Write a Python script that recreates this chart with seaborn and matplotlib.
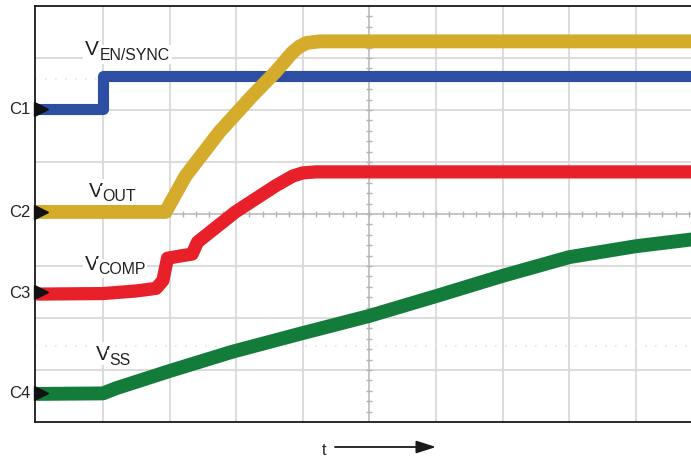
import numpy as np
import matplotlib
matplotlib.use("Agg")
import matplotlib.pyplot as plt
import seaborn as sns

# ---- data (in scope divisions: x 0..10, y 0..8 from bottom) ----
en_x = [0.0, 1.0, 1.0, 9.9]
en_y = [6.02, 6.02, 6.66, 6.66]

out_x = [0.0, 1.94, 2.24, 2.75, 3.24, 3.59, 3.84, 3.95, 4.06, 4.25, 9.9]
out_y = [4.04, 4.04, 4.73, 5.58, 6.27, 6.73, 7.10, 7.22, 7.29, 7.32, 7.32]

comp_x = [0.0, 1.0, 1.5, 1.8, 1.9, 1.97, 2.15, 2.34, 2.42, 2.99, 3.59,
          3.85, 4.0, 4.2, 9.9]
comp_y = [2.46, 2.47, 2.52, 2.57, 2.72, 3.15, 3.19, 3.23, 3.46, 4.04, 4.54,
          4.73, 4.79, 4.81, 4.81]

ss_x = [0.0, 1.0, 1.2, 2.0, 2.94, 4.0, 5.0, 6.0, 7.0, 8.0, 9.0, 9.9]
ss_y = [0.54, 0.55, 0.65, 0.98, 1.35, 1.71, 2.04, 2.42, 2.81, 3.17, 3.38, 3.52]

channel_labels = ["C1", "C2", "C3", "C4"]
channel_levels = [6.02, 4.04, 2.50, 0.56]

trace_names = ["EN/SYNC", "OUT", "COMP", "SS"]

# ---- figure ----
sns.set_theme(style="white")
plt.rcParams["font.family"] = ["Liberation Sans", "DejaVu Sans"]

W, H = 691, 460
fig = plt.figure(figsize=(W / 100, H / 100), dpi=100)
ax = fig.add_axes([35 / W, 37 / H, 656 / W, 416 / H])
ax.set_xlim(-0.02, 9.83)
ax.set_ylim(0, 8)

# grid
ax.set_xticks(range(1, 10))
ax.set_yticks(range(1, 8))
ax.grid(True, color="#d9d9d9", lw=1.3)
ax.tick_params(length=0, labelbottom=False, labelleft=False)
for s in ["left", "top", "bottom"]:
    ax.spines[s].set_color("#1a1a1a")
    ax.spines[s].set_linewidth(1.3)
ax.spines["right"].set_visible(False)

# centre graticule lines with minor ticks
ax.axvline(5, color="#c2c2c2", lw=1.2, zorder=1)
ax.axhline(4, color="#c2c2c2", lw=1.2, zorder=1)
ax.plot(np.full(39, 5.0), np.arange(1, 40) * 0.2, ls="none", marker="_",
        ms=5, mew=1.0, color="#b4b4b4", zorder=1)
ax.plot(np.arange(1, 50) * 0.2, np.full(49, 4.0), ls="none", marker="|",
        ms=5, mew=1.0, color="#b4b4b4", zorder=1)
# faint dotted reference lines
ax.axhline(6.6, color="#e6e6e6", lw=1.2, ls=(0, (1, 5)), zorder=1)
ax.axhline(1.46, color="#e6e6e6", lw=1.2, ls=(0, (1, 5)), zorder=1)

# traces
common = dict(estimator=None, sort=False, ax=ax, solid_capstyle="butt",
              solid_joinstyle="round")
sns.lineplot(x=ss_x, y=ss_y, color="#137c3b", lw=10, zorder=3, **common)
sns.lineplot(x=comp_x, y=comp_y, color="#e8202a", lw=9.5, zorder=4, **common)
sns.lineplot(x=en_x, y=en_y, color="#2d4fa3", lw=8, zorder=5, **common)
sns.lineplot(x=out_x, y=out_y, color="#d5ab2b", lw=10, zorder=6, **common)

# channel markers
ax.plot([0.07] * 4, channel_levels, ls="none", marker=">", ms=10,
        color="#111111", clip_on=False, zorder=8)
for lab, lev in zip(channel_labels, channel_levels):
    yp = 423 - lev * 52
    fig.text(30 / W, 1 - yp / H, lab, ha="right", va="center",
             fontsize=12, color="#222222")


def fp(x, y):
    return x / W, 1 - y / H


# trace labels: (V left x, V baseline y, sub left x, sub baseline y)
label_pos = [(85, 55, 100, 60), (89, 197, 102, 201),
             (85, 270, 98, 274), (96, 360, 109, 365)]
for name, (vx, vy, sx, sy) in zip(trace_names, label_pos):
    fig.text(*fp(vx, vy), "V", fontsize=15, ha="left", va="baseline",
             color="#222222",
             bbox=dict(facecolor="white", edgecolor="none", pad=1.5))
    fig.text(*fp(sx, sy), name, fontsize=11.4, ha="left", va="baseline",
             color="#222222",
             bbox=dict(facecolor="white", edgecolor="none", pad=1.5))

# time arrow
fig.text(*fp(322, 455), "t", fontsize=11.5, ha="left", va="baseline",
         color="#222222")
ax.annotate("", xy=fp(436, 448), xytext=fp(335, 448),
            xycoords="figure fraction", textcoords="figure fraction",
            arrowprops=dict(arrowstyle="-|>,head_length=1.0,head_width=0.32",
                            color="#1a1a1a", lw=1.3, mutation_scale=12,
                            shrinkA=0, shrinkB=0))

fig.savefig("out.png", dpi=100)
